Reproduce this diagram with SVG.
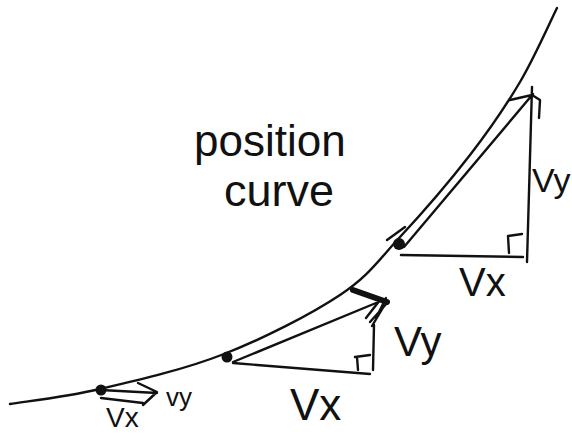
<svg xmlns="http://www.w3.org/2000/svg" width="572" height="436" viewBox="0 0 572 436">
<style>
.ink{fill:none;stroke:#111;stroke-width:2.4;stroke-linecap:round;stroke-linejoin:round}
.thick{fill:none;stroke:#111;stroke-width:6;stroke-linecap:round}
.dot{fill:#111}
.lbl{font-family:"Liberation Sans",Arial,sans-serif;fill:#111}
</style>
<rect width="572" height="436" fill="#fff"/>
<g id="position-curve">
<path class="ink" d="M10,404 C25,401.5 64.3,397.3 100,389 C135.7,380.7 184,369.7 224,354 C264,338.3 310.7,314.5 340,295 C369.3,275.5 378.3,260.3 400,237 C421.7,213.7 450,180.8 470,155 C490,129.2 505.5,106.5 520,82 C534.5,57.5 550.8,20.3 557,8"/>
<text class="lbl" x="194" y="156" font-size="44">position</text>
<text class="lbl" x="224" y="206" font-size="45">curve</text>
</g>
<g id="point1">
<circle class="dot" cx="101" cy="390" r="5.5"/>
</g>
<g id="point2">
<circle class="dot" cx="227" cy="357" r="5.5"/>
</g>
<g id="point3">
<circle class="dot" cx="399" cy="244" r="6"/>
</g>
<g id="connectors">
<path class="ink" d="M101,390 L157,393 M138,383 L157,392 L143,405 M101,398 L143,403"/>
<path class="ink" d="M233,362 L376,303 M233,363 L370,374 M374,325 L373,370 M355,357 L370,355 M357,357 L358,370"/>
<path class="thick" d="M353,290 L387,302"/>
<path class="ink" d="M388,302 L370,322 M384,306 L372,326 M380,300 L366,318 M386,298 L376,318"/>
<path class="ink" d="M404,247 L533,94 M510,100 L532,95 L540,100 L539,118 M387,240 L405,227 M532,87 L527,262 M401,255 L523,257 M508,236 L522,234 M508,236 L509,253"/>
</g>
<g id="labels">
<text class="lbl" x="106" y="427" font-size="28">Vx</text>
<text class="lbl" x="166" y="406" font-size="26">vy</text>
<text class="lbl" x="290" y="420" font-size="44">Vx</text>
<text class="lbl" x="394" y="356" font-size="42">Vy</text>
<text class="lbl" x="459" y="296" font-size="40">Vx</text>
<text class="lbl" x="532" y="192" font-size="34">Vy</text>
</g>
</svg>
